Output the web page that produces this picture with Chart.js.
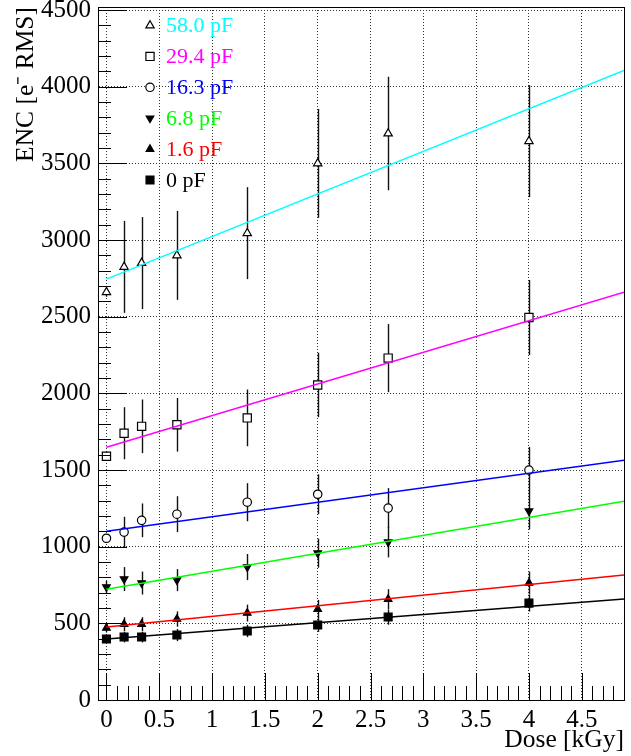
<!DOCTYPE html>
<html>
<head>
<meta charset="utf-8">
<style>
  body { margin: 0; background: #fff; }
  canvas { display: block; }
</style>
</head>
<body>
<canvas id="chart" width="631" height="756"></canvas>
<script src="https://cdn.jsdelivr.net/npm/chart.js@4.4.1/dist/chart.umd.min.js"></script>
<script>
// dose points (kGy)
const dose = [0, 0.167, 0.333, 0.667, 1.333, 2, 2.667, 4];

// ENC per input capacitance, with errors
const labels = ['58.0 pF', '29.4 pF', '16.3 pF', '6.8 pF', '1.6 pF', '0 pF'];
const enc58 = [2660, 2825, 2850, 2900, 3045, 3500, 3695, 3645];
const err58 = [30, 300, 300, 290, 300, 355, 370, 365];
const enc29 = [1590, 1740, 1785, 1795, 1840, 2055, 2230, 2495];
const err29 = [30, 170, 175, 175, 185, 210, 222, 245];
const enc16 = [1055, 1095, 1172, 1212, 1290, 1342, 1252, 1500];
const err16 = [20, 100, 110, 117, 124, 130, 130, 150];
const enc6 = [737, 789, 763, 782, 867, 958, 1030, 1232];
const err6 = [40, 78, 75, 72, 85, 95, 100, 120];
const enc1 = [470, 495, 495, 528, 567, 593, 658, 763];
const err1 = [30, 45, 45, 50, 55, 60, 65, 75];
const enc0 = [398, 411, 411, 424, 450, 489, 541, 632];
const err0 = [25, 35, 35, 40, 40, 45, 50, 55];

// linear fits, value at start and end of the drawn range
const fitRange = [0, 4.9];
const fitStart = [2745, 1649, 1101, 723, 476, 398];
const fitEnd = [4107, 2660, 1564, 1297, 815, 658];

const xTicks = [0, 0.5, 1, 1.5, 2, 2.5, 3, 3.5, 4, 4.5];
const yTicks = [0, 500, 1000, 1500, 2000, 2500, 3000, 3500, 4000, 4500];

const encSeries = [enc58, enc29, enc16, enc6, enc1, enc0];
const errSeries = [err58, err29, err16, err6, err1, err0];
const colors = ['#00ffff', '#ff00ff', '#0000ff', '#00ff00', '#ff0000', '#000000'];

const serif = "'Liberation Serif', 'Times New Roman', serif";

// ROOT-like markers: open triangle, open square, open circle, filled down/up triangle, filled square
const markers = [
  { pointStyle: 'triangle', radius: 4.8, rotation: 0, fill: '#fff' },
  { pointStyle: 'rect', radius: 5.8, rotation: 0, fill: '#fff' },
  { pointStyle: 'circle', radius: 4.2, rotation: 0, fill: '#fff' },
  { pointStyle: 'triangle', radius: 4.4, rotation: 180, fill: '#000' },
  { pointStyle: 'triangle', radius: 4.4, rotation: 0, fill: '#000' },
  { pointStyle: 'rect', radius: 5.6, rotation: 0, fill: '#000' }
];

const datasets = [];
fitStart.forEach((v, i) => {
  datasets.push({
    label: labels[i] + ' fit',
    data: [{ x: fitRange[0], y: v }, { x: fitRange[1], y: fitEnd[i] }],
    showLine: true,
    borderColor: colors[i],
    borderWidth: 1.5,
    pointRadius: 0
  });
});
encSeries.forEach((vals, i) => {
  const m = markers[i];
  datasets.push({
    label: labels[i],
    data: vals.map((v, j) => ({ x: dose[j], y: v })),
    showLine: false,
    pointStyle: m.pointStyle,
    pointRadius: m.radius,
    pointRotation: m.rotation,
    pointBackgroundColor: m.fill,
    pointBorderColor: '#000',
    pointBorderWidth: 1.2
  });
});

const errorBars = {
  id: 'errorBars',
  beforeDatasetsDraw(chart) {
    const ctx = chart.ctx, xs = chart.scales.x, ys = chart.scales.y;
    ctx.save();
    ctx.strokeStyle = '#111';
    ctx.lineWidth = 1.4;
    encSeries.forEach((vals, i) => {
      vals.forEach((v, j) => {
        const px = Math.round(xs.getPixelForValue(dose[j])) + 0.5;
        ctx.beginPath();
        ctx.moveTo(px, ys.getPixelForValue(v + errSeries[i][j]));
        ctx.lineTo(px, ys.getPixelForValue(v - errSeries[i][j]));
        ctx.stroke();
      });
    });
    ctx.restore();
  }
};

// frame + inward major/minor ticks
const rootFrame = {
  id: 'rootFrame',
  afterDraw(chart) {
    const ctx = chart.ctx, a = chart.chartArea, xs = chart.scales.x, ys = chart.scales.y;
    ctx.save();
    ctx.strokeStyle = '#000';
    ctx.lineWidth = 1;
    ctx.strokeRect(Math.round(a.left) + 0.5, Math.round(a.top) + 0.5,
      Math.round(a.right - a.left), Math.round(a.bottom - a.top));
    ctx.beginPath();
    for (let k = 0; k <= 49; k++) {
      const v = k / 10;
      const px = Math.round(xs.getPixelForValue(v)) + 0.5;
      const len = k % 5 === 0 ? 27 : 14;
      ctx.moveTo(px, a.bottom);
      ctx.lineTo(px, a.bottom - len);
    }
    for (let k = 0; k <= 45; k++) {
      const v = k * 100;
      const py = Math.round(ys.getPixelForValue(v)) + 0.5;
      const len = k % 5 === 0 ? 29 : 13;
      ctx.moveTo(a.left, py);
      ctx.lineTo(a.left + len, py);
    }
    ctx.stroke();
    ctx.restore();
  }
};

const rootLegend = {
  id: 'rootLegend',
  afterDraw(chart) {
    const ctx = chart.ctx;
    ctx.save();
    labels.forEach((lab, i) => {
      const y = 25.5 + i * 30.9;
      const m = markers[i];
      ctx.fillStyle = m.fill;
      ctx.strokeStyle = '#000';
      ctx.lineWidth = 1.2;
      Chart.helpers.drawPoint(ctx, {
        pointStyle: m.pointStyle, radius: m.radius, rotation: m.rotation, borderWidth: 1.2
      }, 150, y);
      ctx.fillStyle = colors[i];
      ctx.font = '22px ' + serif;
      ctx.textAlign = 'left';
      ctx.textBaseline = 'middle';
      ctx.fillText(lab, 166, y + 1);
    });
    ctx.restore();
  }
};

new Chart(document.getElementById('chart'), {
  type: 'scatter',
  data: { datasets },
  plugins: [errorBars, rootFrame, rootLegend],
  options: {
    responsive: false,
    animation: false,
    devicePixelRatio: 1,
    layout: { padding: { top: 7, right: 7, left: 0, bottom: 0 } },
    plugins: { legend: { display: false }, tooltip: { enabled: false } },
    scales: {
      x: {
        type: 'linear',
        min: -0.08,
        max: 4.9,
        afterBuildTicks: s => { s.ticks = xTicks.map(v => ({ value: v })); },
        afterFit: s => { s.height = 56; s.paddingLeft = 0; s.paddingRight = 0; },
        grid: { color: '#333', lineWidth: 1, drawTicks: false },
        border: { color: '#000', width: 1, dash: [1, 2] },
        ticks: {
          font: { family: serif, size: 25 }, color: '#000', padding: 5,
          maxRotation: 0, autoSkip: false, callback: v => String(v)
        },
        title: {
          display: true, text: 'Dose [kGy]', align: 'end', color: '#000',
          font: { family: serif, size: 25.5 }, padding: { top: 2, bottom: 0 }
        }
      },
      y: {
        type: 'linear',
        min: 0,
        max: 4520,
        afterBuildTicks: s => { s.ticks = yTicks.map(v => ({ value: v })); },
        afterFit: s => { s.width = 98; s.paddingTop = 0; s.paddingBottom = 0; },
        grid: { color: '#333', lineWidth: 1, drawTicks: false },
        border: { color: '#000', width: 1, dash: [1, 2] },
        ticks: {
          font: { family: serif, size: 25 }, color: '#000', padding: 7,
          autoSkip: false, callback: v => String(v)
        },
        title: {
          display: true, text: 'ENC [e\u207B RMS]', align: 'end', color: '#000',
          font: { family: serif, size: 25.5 }, padding: { top: 11, bottom: 0 }
        }
      }
    }
  }
});
</script>
</body>
</html>
